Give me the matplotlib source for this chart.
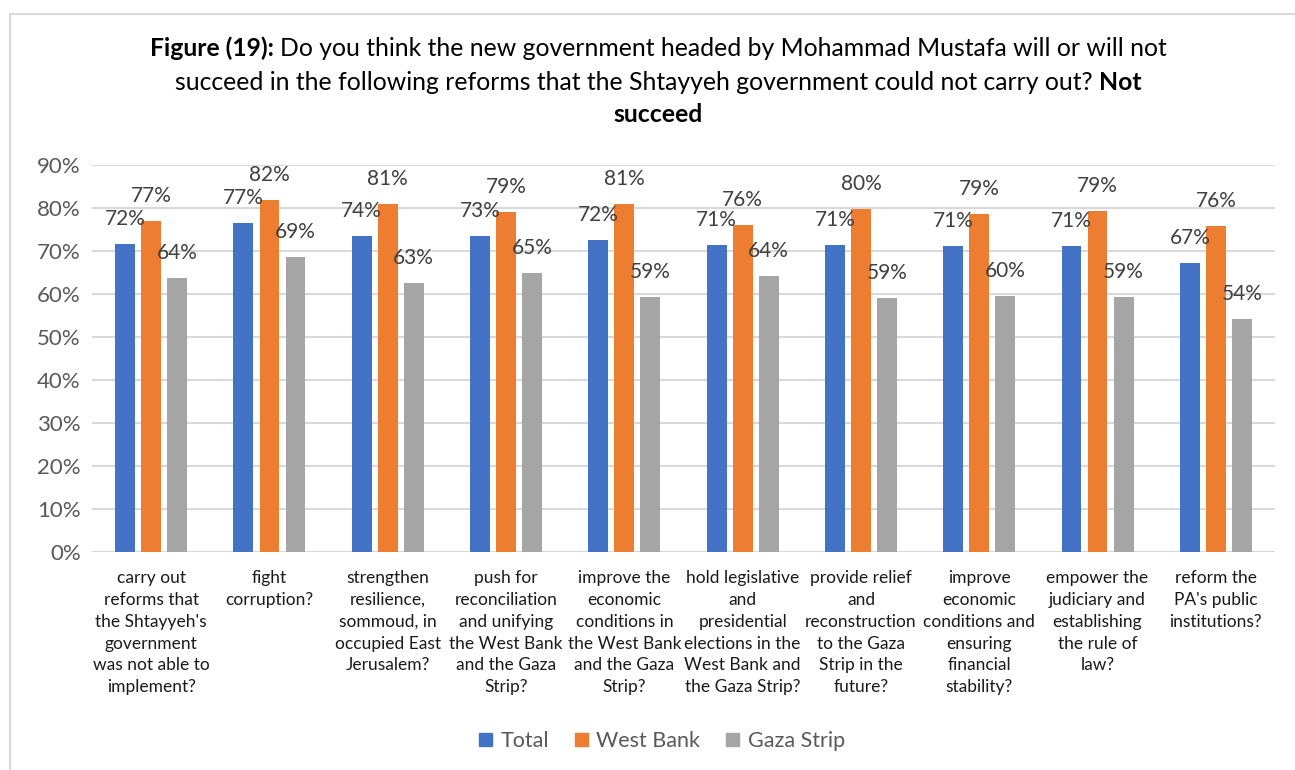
import matplotlib
matplotlib.use('Agg')
import matplotlib.pyplot as plt
import numpy as np
from matplotlib.lines import Line2D
from matplotlib.patches import Patch

plt.rcParams['font.family'] = ['Lato', 'DejaVu Sans']

# Данные
categories = [
    "carry out\nreforms that\nthe Shtayyeh's\ngovernment\nwas not able to\nimplement?",
    "fight\ncorruption?",
    "strengthen\nresilience,\nsommoud, in\noccupied East\nJerusalem?",
    "push for\nreconciliation\nand unifying\nthe West Bank\nand the Gaza\nStrip?",
    "improve the\neconomic\nconditions in\nthe West Bank\nand the Gaza\nStrip?",
    "hold legislative\nand\npresidential\nelections in the\nWest Bank and\nthe Gaza Strip?",
    "provide relief\nand\nreconstruction\nto the Gaza\nStrip in the\nfuture?",
    "improve\neconomic\nconditions and\nensuring\nfinancial\nstability?",
    "empower the\njudiciary and\nestablishing\nthe rule of\nlaw?",
    "reform the\nPA's public\ninstitutions?",
]
total = [71.6, 76.6, 73.6, 73.4, 72.5, 71.3, 71.4, 71.1, 71.2, 67.1]
west_bank = [76.9, 81.8, 81.0, 79.0, 81.0, 76.0, 79.7, 78.7, 79.2, 75.9]
gaza_strip = [63.7, 68.7, 62.6, 64.9, 59.4, 64.2, 59.0, 59.6, 59.4, 54.1]
series_names = ['Total', 'West Bank', 'Gaza Strip']
colors = ['#4472C4', '#ED7D31', '#A5A5A5']
yticks = [0, 10, 20, 30, 40, 50, 60, 70, 80, 90]

W, H = 1295, 770
fig = plt.figure(figsize=(W / 100, H / 100), dpi=100)
fig.patch.set_facecolor('white')

# рамка диаграммы (видна слева и сверху)
fig.add_artist(Line2D([10 / W, 10 / W], [0, 1 - 14 / H], transform=fig.transFigure,
                      color='#D9D9D9', lw=1.5))
fig.add_artist(Line2D([10 / W, 1], [1 - 14 / H, 1 - 14 / H], transform=fig.transFigure,
                      color='#D9D9D9', lw=1.5))

ax = fig.add_axes([92 / W, 1 - 552 / H, (1275 - 92) / W, (552 - 165) / H])
x = np.arange(len(categories))
step = 0.22
width = 0.168
for i, (vals, name, col) in enumerate(zip([total, west_bank, gaza_strip], series_names, colors)):
    pos = x + (i - 1) * step
    ax.bar(pos, vals, width=width, color=col, label=name, zorder=3)
    for px, v in zip(pos, vals):
        ax.annotate(f'{v:.0f}%', (px, v), xytext=(0, 25), textcoords='offset pixels',
                    ha='center', va='center', fontsize=15, color='#404040', zorder=4)

ax.set_xlim(-0.5, len(categories) - 0.5)
ax.set_ylim(0, 90)
ax.set_yticks(yticks)
ax.set_yticklabels([f'{t}%' for t in yticks])
ax.yaxis.grid(True, color='#D9D9D9', lw=1.5, zorder=0)
for s in ax.spines.values():
    s.set_visible(False)
ax.tick_params(axis='y', length=0, labelsize=16, labelcolor='#595959', pad=8)
ax.set_xticks(x)
ax.set_xticklabels(categories, fontsize=12.5, color='#1a1a1a', linespacing=1.45, va='top')
ax.tick_params(axis='x', length=0, pad=13)
ax.axhline(0, color='#D9D9D9', lw=1.5, zorder=2)

# заголовок со смешанным начертанием
fig.canvas.draw()
renderer = fig.canvas.get_renderer()


def title_line(parts, y, size=17.8):
    texts = []
    for s, w in parts:
        t = fig.text(0, 1 - y / H, s, fontsize=size, fontweight=w, va='center', ha='left',
                     color='black')
        texts.append(t)
    widths = [t.get_window_extent(renderer).width for t in texts]
    start = 658 - sum(widths) / 2
    for t, wd in zip(texts, widths):
        t.set_x(start / W)
        start += wd


title_line([('Figure (19): ', 'bold'),
            ('Do you think the new government headed by Mohammad Mustafa will or will not', 'normal')], 48)
title_line([('succeed in the following reforms that the Shtayyeh government could not carry out? ', 'normal'),
            ('Not', 'bold')], 82)
title_line([('succeed', 'bold')], 115)

handles = [Patch(color=c) for c in colors]
fig.legend(handles, series_names, loc='center', bbox_to_anchor=(662 / W, 1 - 741 / H),
           ncol=3, frameon=False, fontsize=15.5, handlelength=0.6, handleheight=0.6,
           handletextpad=0.4, columnspacing=1.2, labelcolor='#595959')

fig.savefig('out.png', dpi=100)
